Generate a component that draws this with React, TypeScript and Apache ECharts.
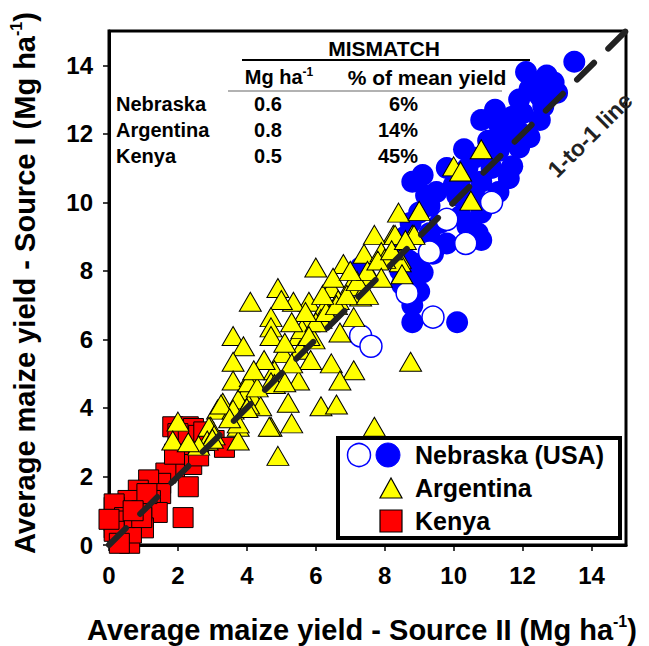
import React, { useEffect, useRef } from "react";
import * as echarts from "echarts";

const AXIS_TICKS = [0, 2, 4, 6, 8, 10, 12, 14];

const nebraskaFilled: [number, number][] = [
  [13.5, 14.1], [12.7, 13.7], [12.9, 13.5], [12.4, 13.5], [12.5, 13.1], [11.9, 13.0], [12.0, 12.6],
  [11.7, 12.5], [10.8, 12.4], [11.3, 12.3], [12.5, 12.4], [11.9, 12.05], [12.2, 11.9], [11.6, 11.8],
  [11.0, 11.8], [10.3, 11.55], [11.9, 11.6], [11.3, 11.5], [10.6, 11.3], [11.7, 11.05], [11.1, 11.0],
  [9.8, 11.0], [9.1, 10.8], [8.8, 10.6], [10.2, 10.7], [10.8, 10.6], [11.6, 10.7], [9.5, 10.3],
  [11.3, 10.3], [10.1, 10.2], [10.6, 10.2], [9.3, 9.9], [10.8, 9.7], [9.0, 9.7], [10.2, 9.6],
  [8.75, 9.4], [9.3, 9.1], [10.7, 9.1], [9.8, 8.8], [10.8, 8.9], [9.4, 8.5], [8.8, 7.95], [9.1, 7.95],
  [9.0, 7.4], [8.8, 6.5], [10.1, 6.5], [8.5, 8.7], [8.6, 9.0], [8.7, 8.3], [8.45, 8.0], [7.3, 8.1],
  [8.8, 7.0], [9.0, 8.2], [8.5, 7.6], [9.2, 10.2], [12.2, 13.3], [13.0, 13.2], [11.4, 12.0],
  [10.4, 11.0], [12.6, 12.8], [12.1, 13.8], [10.0, 10.5], [11.2, 12.7], [9.6, 9.4], [10.4, 9.3]
];

const nebraskaOpen: [number, number][] = [
  [11.1, 10.0], [9.8, 9.5], [10.35, 8.8], [9.3, 8.55], [8.65, 7.35], [9.4, 6.65], [7.3, 6.1], [7.6, 5.8]
];

const argentina: [number, number][] = [
  [10.8, 11.55], [10.0, 11.05], [10.2, 10.9], [10.5, 10.05], [8.25, 9.05], [8.8, 9.05], [8.45, 8.35],
  [8.4, 9.7], [9.0, 9.75], [7.7, 9.05], [8.3, 9.05], [8.85, 9.05], [7.4, 8.5], [7.9, 8.55], [6.8, 8.2],
  [6.0, 8.1], [8.45, 8.25], [8.0, 8.35], [8.5, 7.9], [7.6, 7.85], [7.0, 7.55], [6.45, 7.5], [4.9, 7.5],
  [5.8, 7.1], [5.35, 7.1], [5.0, 7.15], [4.1, 7.1], [6.65, 7.15], [7.3, 7.25], [6.25, 6.95], [4.7, 6.65],
  [4.7, 6.35], [5.8, 6.5], [6.15, 6.6], [7.1, 6.65], [6.7, 6.2], [3.6, 6.1], [3.9, 5.8], [4.7, 6.1],
  [5.5, 6.1], [5.95, 6.0], [5.05, 5.6], [5.55, 5.7], [5.85, 5.4], [6.45, 5.3], [7.1, 5.1], [6.7, 4.8],
  [3.6, 5.35], [8.75, 5.35], [3.6, 4.8], [4.1, 4.9], [4.8, 5.1], [4.7, 4.75], [5.05, 4.8], [5.5, 4.8],
  [4.0, 4.5], [3.75, 4.25], [3.3, 4.15], [4.2, 4.25], [5.2, 4.15], [6.15, 4.05], [6.6, 4.1], [3.15, 3.95],
  [3.6, 3.95], [4.7, 3.45], [5.3, 3.55], [7.7, 3.45], [2.95, 3.45], [3.75, 3.45], [4.4, 4.05],
  [2.0, 3.6], [1.85, 3.05], [2.9, 3.45], [2.85, 3.05], [3.75, 3.05], [3.25, 4.1], [4.05, 4.1],
  [3.75, 3.55], [4.65, 3.45], [4.9, 2.6], [4.05, 4.75], [4.8, 4.7], [5.1, 4.75], [3.05, 3.2],
  [5.6, 6.3], [6.0, 6.5], [6.3, 6.8], [6.6, 7.0], [6.9, 7.3], [7.2, 7.7], [7.5, 8.0], [7.8, 8.3],
  [7.5, 7.3], [7.9, 7.8], [8.2, 8.6], [8.6, 8.9], [5.3, 5.3], [5.1, 5.9], [4.3, 4.6], [4.0, 4.0],
  [3.5, 3.7], [3.0, 3.1], [2.6, 2.9], [2.3, 3.0], [5.8, 6.1], [6.2, 7.3], [6.5, 7.8], [7.0, 8.0],
  [5.7, 6.8], [5.3, 6.5], [4.5, 5.4], [4.2, 5.1]
];

const kenya: [number, number][] = [
  [1.85, 3.45], [2.3, 3.45], [2.45, 3.4], [2.0, 3.25], [2.3, 3.1], [2.6, 3.2], [3.05, 3.05], [3.35, 2.85],
  [2.1, 2.55], [2.4, 2.35], [1.9, 2.2], [1.65, 2.1], [2.3, 1.7], [2.15, 0.8], [1.5, 1.8], [1.15, 1.9],
  [0.85, 1.6], [1.5, 1.5], [1.2, 1.3], [0.55, 1.3], [1.4, 0.95], [1.0, 0.5], [0.25, 0.8], [0.15, 1.1],
  [0.65, 0.8], [0.35, 0.15], [0.6, 0.05], [0.95, 1.0], [0.65, 0.35], [0.15, 0.5], [0.15, 1.2],
  [0.45, 0.8], [0.95, 0.8], [0.15, 0.7], [0.15, 0.4], [0.3, 0.05], [0.0, 0.75], [1.9, 2.65],
  [2.6, 2.6], [1.1, 1.5], [0.7, 1.0], [2.75, 3.3]
];

const oneToOne: [number, number][] = [[0, 0], [15, 15]];

const tableRows = ["Nebraska", "Argentina", "Kenya"];
const tableMg = ["0.6", "0.8", "0.5"];
const tablePct = ["6%", "14%", "45%"];

const FONT = "'Liberation Sans', Arial, sans-serif";

export default function App() {
  const ref = useRef<HTMLDivElement>(null);
  useEffect(() => {
    if (!ref.current) return;
    const chart = echarts.init(ref.current, undefined, { renderer: "svg" });
    const bold = { fontFamily: FONT, fontWeight: "bold" as const, fill: "#000" };
    const graphic: any[] = [];
    const titleRich = {
      a: { fontSize: 29, fontFamily: FONT, fontWeight: "bold", lineHeight: 33, fill: "#000" },
      s: { fontSize: 16, fontFamily: FONT, fontWeight: "bold", verticalAlign: "top", lineHeight: 33, fill: "#000" },
    } as any;
    graphic.push({
      type: "text", x: 362, y: 630,
      style: { text: "{a|Average maize yield - Source II (Mg ha}{s|-1}{a|)}", rich: titleRich, align: "center", verticalAlign: "middle" },
    });
    graphic.push({
      type: "text", x: 25, y: 283, rotation: Math.PI / 2,
      style: { text: "{a|Average maize yield - Source I (Mg ha}{s|-1}{a|)}", rich: titleRich, align: "center", verticalAlign: "middle" },
    });
    // table
    graphic.push({ type: "text", x: 384, y: 48, style: { ...bold, text: "MISMATCH", fontSize: 21, align: "center", verticalAlign: "middle" } });
    graphic.push({ type: "line", shape: { x1: 242, y1: 60, x2: 530, y2: 60 }, style: { stroke: "#000", lineWidth: 2 } });
    graphic.push({
      type: "text", x: 279, y: 77,
      style: {
        text: "{a|Mg ha}{s|-1}", align: "center", verticalAlign: "middle",
        rich: {
          a: { fontSize: 20, fontFamily: FONT, fontWeight: "bold", lineHeight: 22, fill: "#000" },
          s: { fontSize: 12, fontFamily: FONT, fontWeight: "bold", verticalAlign: "top", lineHeight: 22, fill: "#000" },
        },
      },
    });
    graphic.push({ type: "text", x: 427, y: 77, style: { ...bold, text: "% of mean yield", fontSize: 21, align: "center", verticalAlign: "middle" } });
    graphic.push({ type: "line", shape: { x1: 228, y1: 91, x2: 502, y2: 91 }, style: { stroke: "#999", lineWidth: 1.5 } });
    tableRows.forEach((r, i) => {
      const y = 104 + i * 26;
      graphic.push({ type: "text", x: 116, y, style: { ...bold, text: r, fontSize: 20, align: "left", verticalAlign: "middle" } });
      graphic.push({ type: "text", x: 268, y, style: { ...bold, text: tableMg[i], fontSize: 20, align: "center", verticalAlign: "middle" } });
      graphic.push({ type: "text", x: 418, y, style: { ...bold, text: tablePct[i], fontSize: 20, align: "right", verticalAlign: "middle" } });
    });
    // 1-to-1 label
    graphic.push({
      type: "text", x: 590, y: 135, rotation: Math.PI / 4, z: 20,
      style: { ...bold, fill: "#222", text: "1-to-1 line", fontSize: 23, align: "center", verticalAlign: "middle" },
    });
    // legend
    graphic.push({ type: "rect", z: 30, shape: { x: 338, y: 438, width: 282, height: 100 }, style: { fill: "#fff", stroke: "#000", lineWidth: 4 } });
    graphic.push({ type: "circle", z: 31, shape: { cx: 359, cy: 455, r: 11.5 }, style: { fill: "#fff", stroke: "#0000ff", lineWidth: 1.5 } });
    graphic.push({ type: "circle", z: 31, shape: { cx: 388, cy: 455, r: 12 }, style: { fill: "#0000ff", stroke: "#0000ff", lineWidth: 1 } });
    graphic.push({ type: "polygon", z: 31, shape: { points: [[380, 498], [402, 498], [391, 478]] }, style: { fill: "#ffff00", stroke: "#000", lineWidth: 1.2 } });
    graphic.push({ type: "rect", z: 31, shape: { x: 380, y: 510, width: 22, height: 22 }, style: { fill: "#ff0000", stroke: "#000", lineWidth: 1.2 } });
    const legendTexts = ["Nebraska (USA)", "Argentina", "Kenya"];
    legendTexts.forEach((t, i) => {
      graphic.push({ type: "text", z: 31, x: 415, y: 455 + i * 33, style: { ...bold, text: t, fontSize: 25, align: "left", verticalAlign: "middle" } });
    });

    const axisCommon = {
      type: "value" as const,
      min: 0,
      max: 15,
      interval: 2,
      axisLine: { show: true, onZero: false, lineStyle: { color: "#000", width: 3 } },
      axisTick: { show: true, inside: false, length: 6, customValues: AXIS_TICKS, lineStyle: { color: "#000", width: 1.5 } },
      axisLabel: { customValues: AXIS_TICKS, color: "#000", fontSize: 24, fontWeight: "bold", fontFamily: FONT },
      splitLine: { show: false },
    };

    chart.setOption({
      animation: false,
      backgroundColor: "#fff",
      grid: { left: 109, top: 31, width: 517, height: 514, show: true, borderColor: "#000", borderWidth: 3, backgroundColor: "transparent" },
      xAxis: { ...axisCommon, axisLabel: { ...axisCommon.axisLabel, margin: 18 } },
      yAxis: { ...axisCommon, axisLabel: { ...axisCommon.axisLabel, margin: 16 } },
      series: [
        { name: "Nebraska (USA)", type: "scatter", data: nebraskaFilled, symbol: "circle", symbolSize: 22, z: 2,
          itemStyle: { color: "#0000ff", opacity: 1 } },
        { name: "Nebraska (USA) open", type: "scatter", data: nebraskaOpen, symbol: "circle", symbolSize: 22, z: 3,
          itemStyle: { color: "#fff", borderColor: "#0000ff", borderWidth: 1.5, opacity: 1 } },
        { name: "Kenya", type: "scatter", data: kenya, symbol: "rect", symbolSize: 20, z: 4,
          itemStyle: { color: "#ff0000", borderColor: "#000", borderWidth: 1, opacity: 1 } },
        { name: "Argentina", type: "scatter", data: argentina, symbol: "triangle", symbolSize: [22, 19], z: 5,
          itemStyle: { color: "#ffff00", borderColor: "#000", borderWidth: 1, opacity: 1 } },
        { name: "1-to-1", type: "line", data: oneToOne, symbol: "none", z: 6, silent: true,
          lineStyle: { color: "#222", width: 6, type: [24, 20], cap: "round" } },
      ],
      graphic,
    });
    return () => chart.dispose();
  }, []);
  return <div ref={ref} style={{ width: 649, height: 646, position: "absolute", left: 0, top: 0 }} />;
}
